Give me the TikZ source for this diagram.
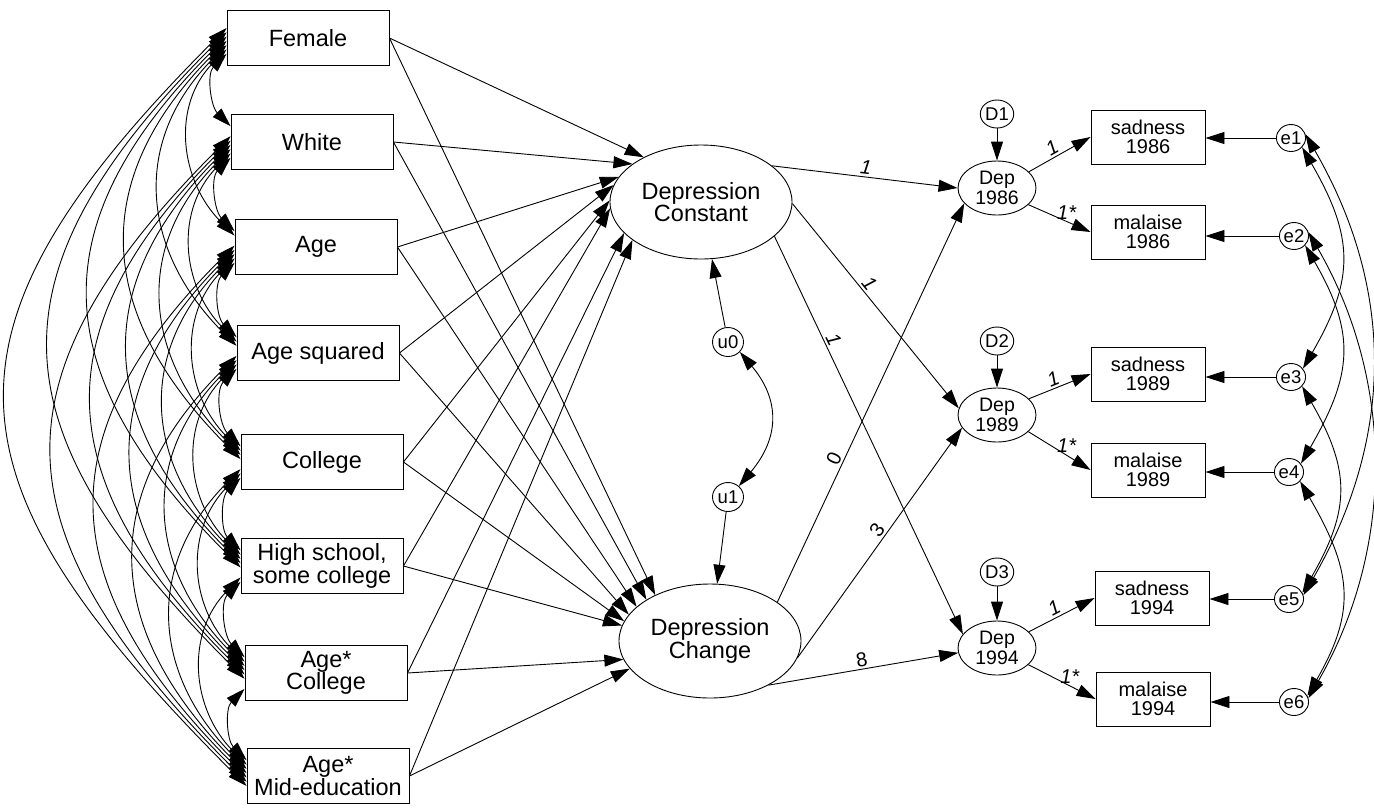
\documentclass[tikz,border=0pt]{standalone}
\usepackage{fontspec}
\setmainfont{Liberation Sans}
\usetikzlibrary{arrows.meta,shapes.geometric}

\tikzset{
  obs/.style={draw,rectangle,minimum width=162pt,minimum height=55pt,inner sep=2pt,
    align=center,font=\fontsize{23.5}{22.5}\selectfont},
  ind/.style={draw,rectangle,minimum width=114pt,minimum height=54pt,inner sep=2pt,
    align=center,font=\fontsize{20}{19}\selectfont},
  latent/.style={draw,ellipse,minimum width=182pt,minimum height=114pt,inner sep=0pt,
    align=center,font=\fontsize{23.5}{22.5}\selectfont},
  dep/.style={draw,ellipse,minimum width=78pt,minimum height=54pt,inner sep=0pt,
    align=center,font=\fontsize{19.5}{19.3}\selectfont},
  resid/.style={draw,ellipse,minimum width=31pt,minimum height=29pt,inner sep=0pt,
    font=\fontsize{18.5}{18}\selectfont},
  lbl/.style={font=\fontsize{20}{20}\selectfont,inner sep=2pt},
  covar/.style={{Triangle[length=19pt,width=12pt]}-{Triangle[length=19pt,width=12pt]}}
}

\begin{document}
\begin{tikzpicture}[x=1pt,y=-1pt,line width=0.9pt,>={Triangle[length=19pt,width=12pt]}]
    \useasboundingbox (0,0) rectangle (1374,807);

    % exogenous variables
    \node[obs] (x1) at (308,38) {Female};
    \node[obs] (x2) at (312,142) {White};
    \node[obs] (x3) at (316,247) {Age};
    \node[obs] (x4) at (318,353) {Age squared};
    \node[obs] (x5) at (322,462) {College};
    \node[obs] (x6) at (322,566) {High school,\\some college};
    \node[obs] (x7) at (326,673) {Age*\\College};
    \node[obs] (x8) at (328,776) {Age*\\Mid-education};

    % growth factors
    \node[latent] (dc) at (701,202) {Depression\\Constant};
    \node[latent] (dch) at (710,641) {Depression\\Change};
    \node[resid] (u0) at (728,342) {u0};
    \node[resid] (u1) at (728,497) {u1};

    % depression by year
    \node[dep] (dep86) at (997,188) {Dep\\1986};
    \node[dep] (dep89) at (997,415) {Dep\\1989};
    \node[dep] (dep94) at (997,648) {Dep\\1994};
    \node[resid,minimum width=32pt,minimum height=28pt] (d1) at (997,114) {D1};
    \node[resid,minimum width=32pt,minimum height=28pt] (d2) at (997,341) {D2};
    \node[resid,minimum width=32pt,minimum height=28pt] (d3) at (997,572) {D3};

    % indicators
    \node[ind] (s86) at (1148,137) {sadness\\1986};
    \node[ind] (m86) at (1148,232) {malaise\\1986};
    \node[ind] (s89) at (1148,374) {sadness\\1989};
    \node[ind] (m89) at (1148,470) {malaise\\1989};
    \node[ind] (s94) at (1152,598) {sadness\\1994};
    \node[ind] (m94) at (1153,699) {malaise\\1994};
    \node[resid,minimum width=27pt,minimum height=27pt] (e1) at (1291,138) {e1};
    \node[resid,minimum width=27pt,minimum height=27pt] (e2) at (1294,236) {e2};
    \node[resid,minimum width=27pt,minimum height=27pt] (e3) at (1291,377) {e3};
    \node[resid,minimum width=27pt,minimum height=27pt] (e4) at (1289,472) {e4};
    \node[resid,minimum width=27pt,minimum height=27pt] (e5) at (1289,599) {e5};
    \node[resid,minimum width=27pt,minimum height=27pt] (e6) at (1294,702) {e6};

    % predictors -> growth factors
    \foreach \i/\a/\b in {1/142/140,2/151/147,3/163/155,4/169/162,5/179/167,6/184/170,7/202/192,8/209/199}{
      \draw[->] (x\i.east) -- (dc.\a);
      \draw[->] (x\i.east) -- (dch.\b);
    }

    % covariances among predictors
    \foreach \i in {1,...,7}{
      \pgfmathtruncatemacro\nxt{\i+1}
      \foreach \j in {\nxt,...,8}{
        \pgfmathtruncatemacro\sa{194-3*(\j-\i)}
        \pgfmathtruncatemacro\ea{166+3*(\j-\i)}
        \pgfmathsetmacro\lo{0.92+0.077*(\j-\i)}
        \draw[covar,looseness=\lo] (x\i.\sa) to[out=225,in=135] (x\j.\ea);
      }
    }

    \draw[->] (u0) -- (dc);
    \draw[->] (u1) -- (dch);
    \draw[covar,looseness=1.2] (u0.-40) to[out=-50,in=50] (u1.45);

    % loadings
    \draw[->] (dc.27) -- node[lbl,above,sloped] {\textit{1}} (dep86.180);
    \draw[->] (dc.-1) -- node[lbl,above,sloped,pos=0.42] {\textit{1}} (dep89.170);
    \draw[->] (dc.-25) -- node[lbl,above,sloped,pos=0.27] {\textit{1}} (dep94.158);
    \draw[->] (dch.30) -- node[lbl,above,sloped,pos=0.35] {0} (dep86.205);
    \draw[->] (dch.-11) -- node[lbl,above,sloped,pos=0.53] {3} (dep89.200);
    \draw[->] (dch.-37) -- node[lbl,above,sloped] {8} (dep94.187);

    \draw[->] (d1) -- (dep86);
    \draw[->] (d2) -- (dep89);
    \draw[->] (d3) -- (dep94);

    \draw[->] (dep86.27) -- node[lbl,above,sloped,pos=0.45] {\textit{1}} (s86.west);
    \draw[->] (dep86.-28) -- node[lbl,above,pos=0.62] {\textit{1*}} (m86.west);
    \draw[->] (dep89.27) -- node[lbl,above,sloped,pos=0.45] {\textit{1}} (s89.west);
    \draw[->] (dep89.-28) -- node[lbl,above,pos=0.62] {\textit{1*}} (m89.west);
    \draw[->] (dep94.27) -- node[lbl,above,sloped,pos=0.45] {\textit{1}} (s94.west);
    \draw[->] (dep94.-28) -- node[lbl,above,pos=0.62] {\textit{1*}} (m94.west);

    \draw[->] (e1) -- (e1 -| s86.east);
    \draw[->] (e2) -- (e2 -| m86.east);
    \draw[->] (e3) -- (e3 -| s89.east);
    \draw[->] (e4) -- (e4 -| m89.east);
    \draw[->] (e5) -- (e5 -| s94.east);
    \draw[->] (e6) -- (e6 -| m94.east);

    % error covariances
    \draw[covar,looseness=1.2] (e1.-40) to[out=-60,in=60] (e3.35);
    \draw[covar,looseness=1.2] (e2.-40) to[out=-60,in=60] (e4.35);
    \draw[covar,looseness=1.2] (e3.-40) to[out=-60,in=60] (e5.25);
    \draw[covar,looseness=1.2] (e4.-40) to[out=-60,in=60] (e6.25);
    \draw[covar,looseness=1] (e1.15) to[out=-60,in=60] (e5.15);
    \draw[covar,looseness=0.95] (e2.15) to[out=-60,in=60] (e6.15);
\end{tikzpicture}
\end{document}
